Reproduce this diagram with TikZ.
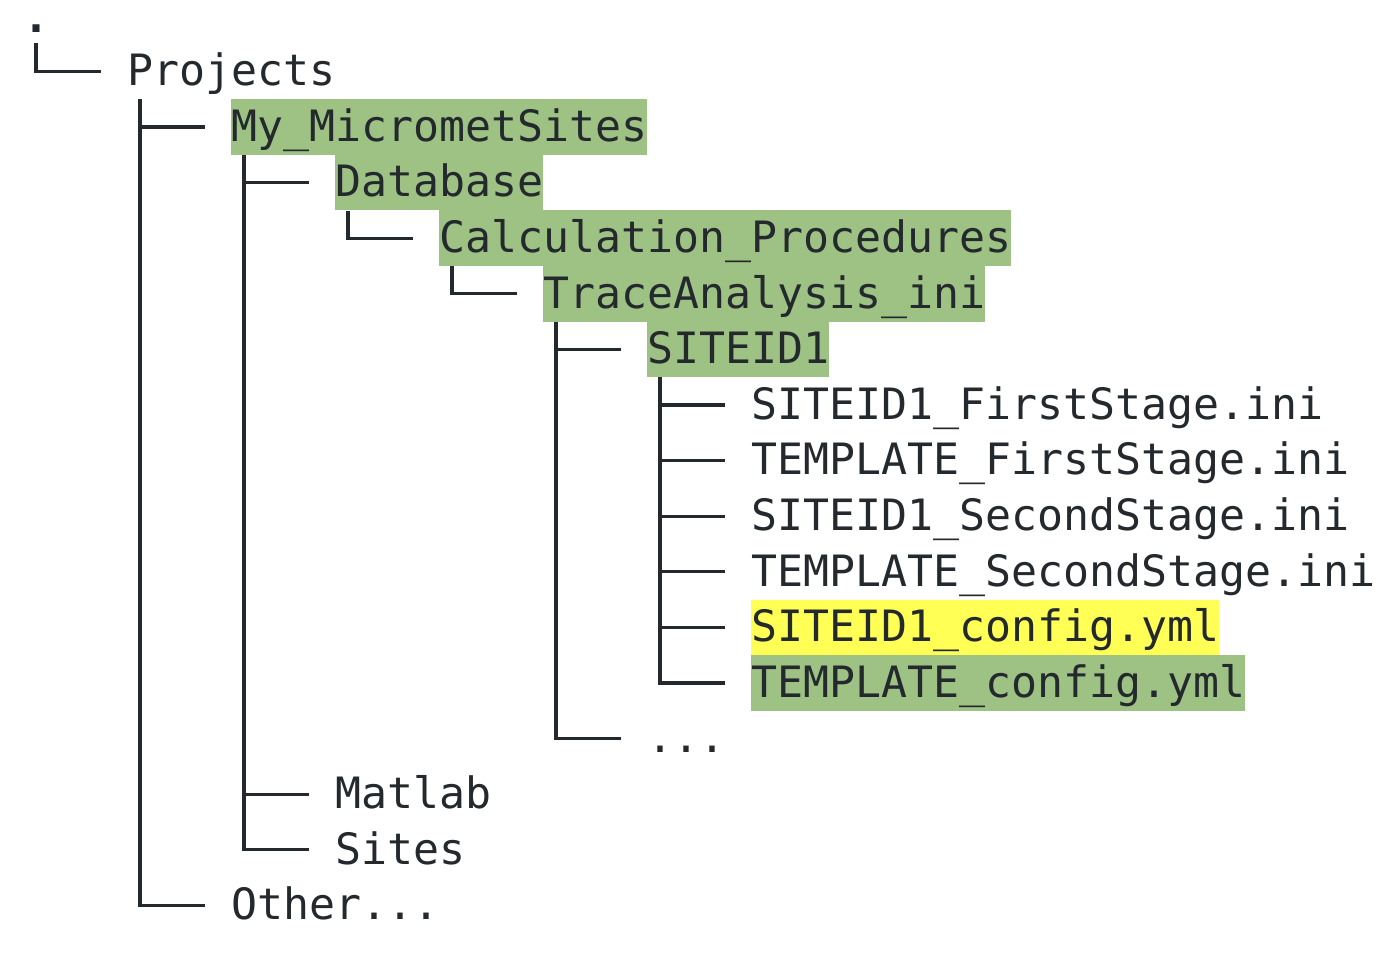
\documentclass[tikz,border=0pt]{standalone}
\usepackage{fontspec}
\setmonofont{DejaVu Sans Mono}
\definecolor{ink}{HTML}{24292E}
\definecolor{hgreen}{HTML}{9DC284}
\definecolor{hyellow}{HTML}{FFFF55}
\begin{document}
\begin{tikzpicture}[x=1pt,y=-1pt,
  entry/.style={anchor=base west, inner sep=0pt, text height=42pt, text depth=13.6pt,
    font=\ttfamily\fontsize{43.2}{50}\selectfont, text=ink},
  hlg/.style={entry, fill=hgreen},
  hly/.style={entry, fill=hyellow},
  tree/.style={draw=ink, line width=3.2pt}]
\useasboundingbox (0,0) rectangle (1400,964);
% entries
\node[entry, text height=10pt, font=\ttfamily\bfseries\fontsize{43.2}{50}\selectfont] (root) at (23,32) {.};
\node[entry] (proj) at (127,85.6) {Projects};
\node[hlg] (mms) at (231,141.2) {My\_MicrometSites};
\node[hlg] (db) at (335,196.8) {Database};
\node[hlg] (calc) at (439,252.4) {Calculation\_Procedures};
\node[hlg] (trace) at (543,308) {TraceAnalysis\_ini};
\node[hlg] (site) at (647,363.6) {SITEID1};
\node[entry] (f1) at (751,419.2) {SITEID1\_FirstStage.ini};
\node[entry] (f2) at (751,474.8) {TEMPLATE\_FirstStage.ini};
\node[entry] (f3) at (751,530.4) {SITEID1\_SecondStage.ini};
\node[entry] (f4) at (751,586) {TEMPLATE\_SecondStage.ini};
\node[hly] (f5) at (751,641.6) {SITEID1\_config.yml};
\node[hlg] (f6) at (751,697.2) {TEMPLATE\_config.yml};
\node[entry] (more) at (647,752.8) {...};
\node[entry] (mat) at (335,808.4) {Matlab};
\node[entry] (sites) at (335,864) {Sites};
\node[entry] (other) at (231,919.6) {Other...};
% connectors
\draw[tree] ([xshift=13pt,yshift=3pt]root.south west) |- ([xshift=-26pt]proj.west);
\foreach \c in {mms,other}
  \draw[tree] ([xshift=13pt]proj.south west) |- ([xshift=-26pt]\c.west);
\foreach \c in {db,mat,sites}
  \draw[tree] ([xshift=13pt]mms.south west) |- ([xshift=-26pt]\c.west);
\draw[tree] ([xshift=13pt]db.south west) |- ([xshift=-26pt]calc.west);
\draw[tree] ([xshift=13pt]calc.south west) |- ([xshift=-26pt]trace.west);
\foreach \c in {site,more}
  \draw[tree] ([xshift=13pt]trace.south west) |- ([xshift=-26pt]\c.west);
\foreach \c in {f1,f2,f3,f4,f5,f6}
  \draw[tree] ([xshift=13pt]site.south west) |- ([xshift=-26pt]\c.west);
\end{tikzpicture}
\end{document}
